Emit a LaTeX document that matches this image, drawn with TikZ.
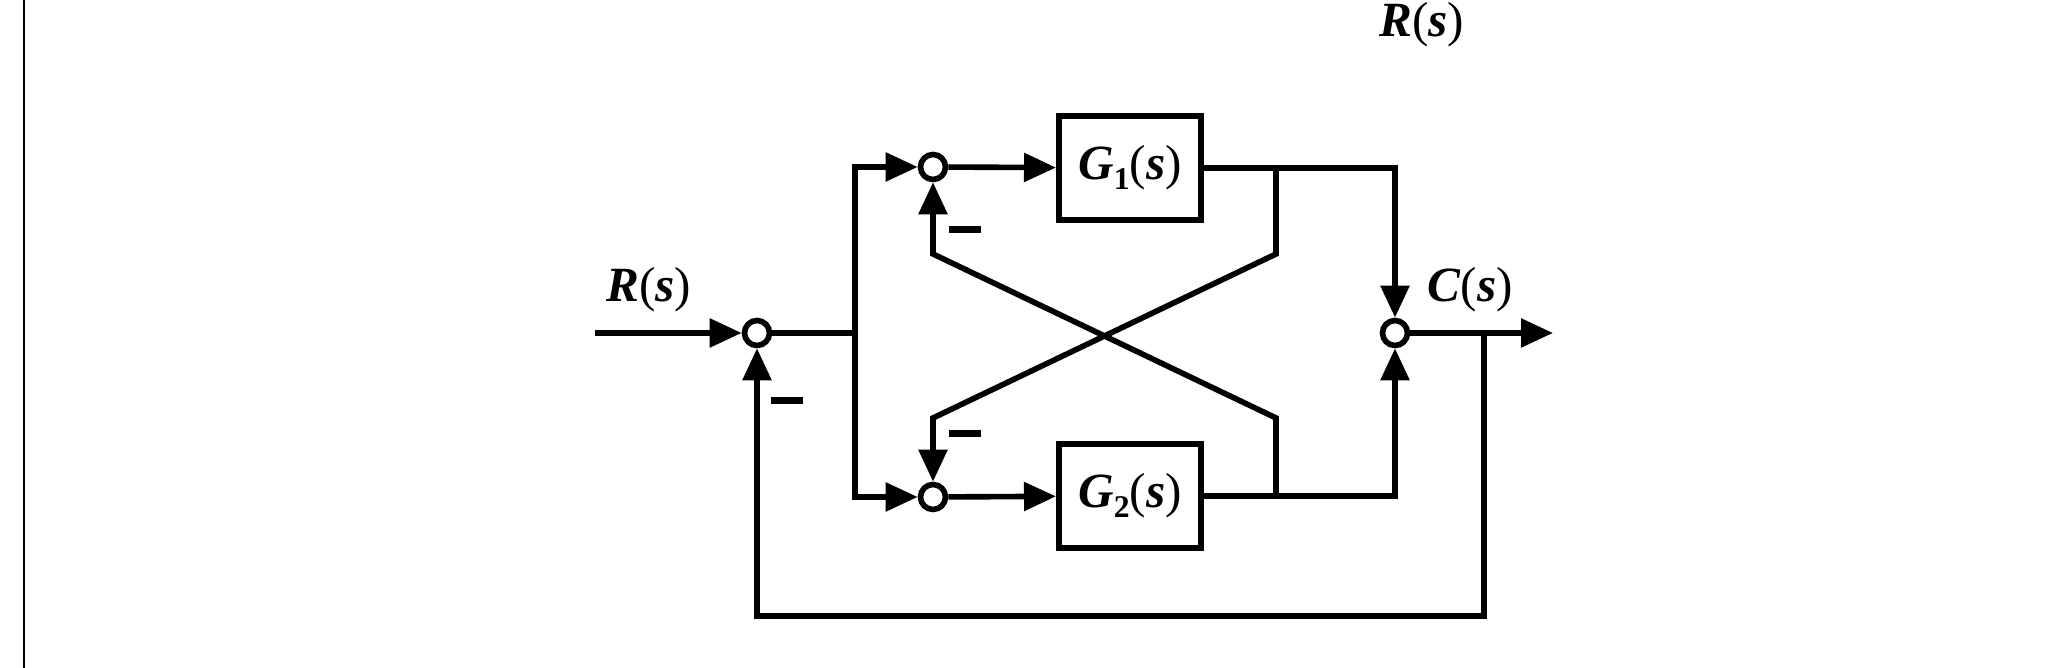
\documentclass[tikz,border=0pt]{standalone}
\usepackage{fontspec}
\setmainfont{Liberation Serif}
\usetikzlibrary{arrows.meta}

\tikzset{
  sumnode/.style={circle, draw, line width=1.6pt, fill=white, inner sep=0pt, minimum size=0.25cm},
  blocknode/.style={draw, line width=1.7pt, minimum width=1.42cm, minimum height=1.04cm, inner sep=0pt},
  wire/.style={line width=1.6pt},
  sig/.style={wire, -{Triangle[length=0.32cm, width=0.28cm]}},
  lbl/.style={font=\fontsize{14}{16}\selectfont}
}
\newcommand{\bi}[1]{\textbf{\textit{#1}}}
\newcommand{\sbx}[1]{\raisebox{-0.45ex}{\fontsize{9}{10}\selectfont\bfseries #1}}

\begin{document}
\begin{tikzpicture}
      \useasboundingbox (0, 0) rectangle (20.63, 6.68);
      %%page edge and top label
      \draw[line width = .8pt](0.24, 0) to (0.24, 6.68);
      \node[lbl, anchor = north, inner sep = 0pt] (rtop) at (14.22, 6.66){\bi{R}(\bi{s})};

      %%summing points
      \node[sumnode] (s1) at (7.57, 3.35){};
      \node[sumnode] (s2) at (9.33, 5.01){};
      \node[sumnode] (s3) at (9.33, 1.71){};
      \node[sumnode] (s4) at (13.95, 3.35){};
      %%blocks
      \node[blocknode, lbl] (g1) at (11.30, 5.00){\bi{G}\sbx{1}(\bi{s})};
      \node[blocknode, lbl] (g2) at (11.30, 1.72){\bi{G}\sbx{2}(\bi{s})};

      %%labels and signs
      \node[lbl] (rin) at (6.49, 3.78){\bi{R}(\bi{s})};
      \node[lbl] (cout) at (14.70, 3.78){\bi{C}(\bi{s})};
      \node (m1) at (7.87, 2.67){\rule{0.32cm}{0.07cm}};
      \node (m2) at (9.65, 4.38){\rule{0.32cm}{0.07cm}};
      \node (m3) at (9.65, 2.34){\rule{0.32cm}{0.07cm}};

      %%points on the wires
      \coordinate (in) at (5.95, 3.35);
      \coordinate (out) at (15.53, 3.35);
      \coordinate (br) at (8.55, 3.35);
      \coordinate (tap) at (14.84, 3.35);
      \coordinate (bot) at (14.84, 0.52);
      \coordinate (t1) at (12.76, 5.01);
      \coordinate (t2) at (12.76, 1.71);
      \coordinate (c1) at (9.33, 4.14);
      \coordinate (c2) at (12.76, 2.50);
      \coordinate (c3) at (12.76, 4.14);
      \coordinate (c4) at (9.33, 2.50);

      %%forward path
      \draw[sig](in) to (s1);
      \draw[wire](s1) to (br);
      \draw[sig](br) |- (s2);
      \draw[sig](br) |- (s3);
      \draw[sig](s2) to (g1);
      \draw[sig](s3) to (g2);
      \draw[sig](g1) -| (s4);
      \draw[sig](g2) -| (s4);
      \draw[sig](s4) to (out);

      %%cross feedback
      \draw[sig](t2) -- (c2) -- (c1) -- (s2);
      \draw[sig](t1) -- (c3) -- (c4) -- (s3);

      %%outer feedback
      \draw[sig](tap) -- (bot) -| (s1);
\end{tikzpicture}
\end{document}
